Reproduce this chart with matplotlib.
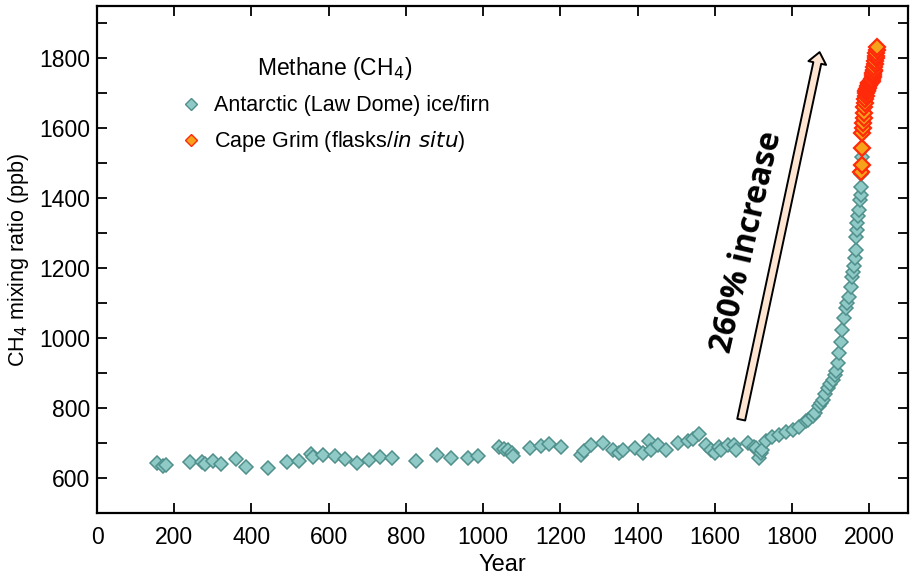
import matplotlib.pyplot as plt
from matplotlib.ticker import MultipleLocator

# Law Dome ice/firn record (year, ppb)
law_dome_year = [156, 171, 178, 242, 271, 279, 301, 322, 360, 387, 442, 492, 522,
                 554, 560, 586, 616, 641, 672, 704, 734, 765, 827, 880, 917, 961,
                 986, 1041, 1055, 1063, 1075, 1077, 1120, 1150, 1170, 1202, 1254,
                 1262, 1280, 1310, 1336, 1351, 1362, 1392, 1413, 1430, 1435, 1452,
                 1473, 1504, 1530, 1543, 1560, 1577, 1590, 1599, 1611, 1616, 1633,
                 1650, 1655, 1685, 1702, 1706, 1713, 1719, 1723, 1732, 1749, 1767,
                 1784, 1801, 1818, 1836, 1840, 1853, 1860, 1870, 1875, 1879, 1885,
                 1892, 1898, 1905, 1910, 1913, 1918, 1922, 1926, 1930, 1935, 1939,
                 1943, 1948, 1952, 1956, 1958, 1961, 1962, 1965, 1966, 1968, 1969,
                 1971, 1974, 1975, 1977, 1978, 1979, 1980]
law_dome_ch4 = [643, 635, 638, 646, 646, 641, 648, 640, 654, 632, 629, 646, 648,
                669, 660, 667, 662, 654, 643, 651, 660, 657, 650, 667, 657, 656,
                664, 689, 683, 681, 671, 664, 685, 693, 698, 690, 667,
                676, 695, 700, 681, 671, 679, 686, 671, 705, 681, 695,
                679, 700, 705, 711, 726, 695, 679, 671, 690, 679, 695,
                695, 679, 700, 690, 686, 657, 671, 679, 705, 717, 724,
                733, 738, 747, 762, 765, 776, 785, 805, 815, 824, 840,
                857, 870, 881, 895, 905, 930, 957, 990, 1024, 1057, 1086,
                1100, 1119, 1147, 1176, 1190, 1205, 1230, 1252, 1290, 1310, 1329,
                1350, 1367, 1395, 1410, 1433, 1470, 1519]

# Cape Grim flasks / in situ
cape_grim_year = [1979, 1980, 1981, 1982, 1983, 1984, 1985, 1986, 1987, 1988, 1989,
                  1990, 1991, 1992, 1993, 1994, 1995, 1996, 1997, 1998, 1999, 2000,
                  2001, 2002, 2003, 2004, 2005, 2006, 2007, 2008, 2009, 2010, 2011,
                  2012, 2013, 2014, 2015, 2016, 2017, 2018, 2019, 2020]
cape_grim_ch4 = [1476, 1495, 1543, 1586, 1600, 1615, 1630, 1645, 1660, 1672, 1683,
                 1693, 1700, 1706, 1707, 1710, 1713, 1716, 1720, 1725, 1730, 1730,
                 1731, 1732, 1733, 1732, 1733, 1735, 1740, 1746, 1752, 1758, 1763,
                 1768, 1775, 1783, 1792, 1800, 1808, 1815, 1823, 1833]

FONT = ['Liberation Sans Narrow', 'Liberation Sans', 'DejaVu Sans']
plt.rcParams['font.family'] = FONT
plt.rcParams['mathtext.fontset'] = 'custom'
plt.rcParams['mathtext.rm'] = 'Liberation Sans Narrow'
plt.rcParams['mathtext.it'] = 'Liberation Sans Narrow:italic'

fig = plt.figure(figsize=(9.16, 5.8), dpi=100)
ax = fig.add_axes([0.1059, 0.1155, 0.8854, 0.8742])

ax.plot(law_dome_year, law_dome_ch4, linestyle='none', marker='D', markersize=7,
        markerfacecolor='#8fcac7', markeredgecolor='#4f8f8c', markeredgewidth=1.1,
        label='Antarctic (Law Dome) ice/firn')
ax.plot(cape_grim_year, cape_grim_ch4, linestyle='none', marker='D', markersize=8.5,
        markerfacecolor='#f7a21b', markeredgecolor='#ff2a0a', markeredgewidth=1.6,
        label='Cape Grim (flasks/$\\it{in\\ situ}$)')

ax.set_xlim(0, 2100)
ax.set_ylim(500, 1950)
ax.xaxis.set_major_locator(MultipleLocator(200))
ax.yaxis.set_major_locator(MultipleLocator(200))
ax.yaxis.set_minor_locator(MultipleLocator(100))
ax.tick_params(which='both', direction='in', top=True, right=True,
               length=7, width=1.3, labelsize=16.5)
ax.tick_params(axis='x', pad=9)
ax.tick_params(axis='y', pad=5)
for s in ax.spines.values():
    s.set_linewidth(1.6)

ax.set_xlabel('Year', fontsize=17, labelpad=4)
ax.set_ylabel('CH$_4$ mixing ratio (ppb)', fontsize=15.5, labelpad=6)

leg = ax.legend(loc='upper left', bbox_to_anchor=(0.079, 0.942), frameon=False,
                fontsize=15.5, title='Methane (CH$_4$)', title_fontsize=16.5,
                handletextpad=0.55, labelspacing=0.62, handlelength=1.0)
for h in leg.legend_handles:
    h.set_markersize(6)
    h.set_markeredgewidth(1.0)

# arrow and annotation
ax.annotate('', xy=(1871, 1818), xytext=(1668, 767),
            arrowprops=dict(arrowstyle='simple,head_width=1.3,head_length=0.8,tail_width=0.58',
                            fc='#fde5d2', ec='black', lw=1.4, mutation_scale=10,
                            shrinkA=0, shrinkB=0))
ax.text(1684, 1275, '260% increase', rotation=77, fontsize=23, fontweight='bold',
        fontstyle='normal', family=['Open Sans', 'DejaVu Sans'], ha='center', va='center')

fig.savefig('out.png', dpi=100)
